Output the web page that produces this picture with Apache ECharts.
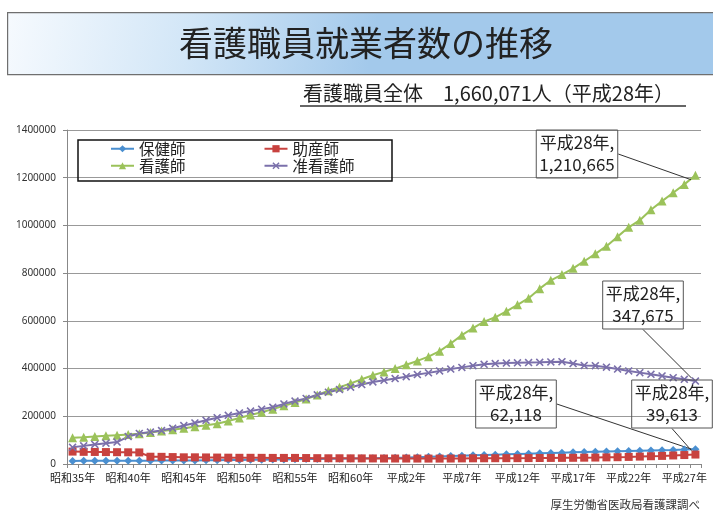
<!DOCTYPE html>
<html><head><meta charset="utf-8">
<script src="https://cdn.jsdelivr.net/npm/echarts/dist/echarts.min.js"></script>
<style>html,body{margin:0;padding:0;background:#fff}#c{width:713px;height:515px}</style>
</head><body><div id="c"></div>
<script>
const categories = ['昭和35年','昭和36年','昭和37年','昭和38年','昭和39年','昭和40年','昭和41年','昭和42年','昭和43年','昭和44年',
'昭和45年','昭和46年','昭和47年','昭和48年','昭和49年','昭和50年','昭和51年','昭和52年','昭和53年','昭和54年',
'昭和55年','昭和56年','昭和57年','昭和58年','昭和59年','昭和60年','昭和61年','昭和62年','昭和63年','平成元年',
'平成2年','平成3年','平成4年','平成5年','平成6年','平成7年','平成8年','平成9年','平成10年','平成11年',
'平成12年','平成13年','平成14年','平成15年','平成16年','平成17年','平成18年','平成19年','平成20年','平成21年',
'平成22年','平成23年','平成24年','平成25年','平成26年','平成27年','平成28年'];
const hokenshi = [13000,13200,13400,13600,13800,14000,14000,14100,14200,14300,
14500,14800,15200,15700,16300,16900,17500,18100,18700,19300,
19900,20500,21100,21700,22300,23000,23700,24400,25200,26000,
27000,28500,30000,31600,33200,34800,36200,37600,39000,40400,
41800,43200,44600,46000,47400,48800,50000,51200,52300,53400,
54500,55600,56700,57800,59000,60500,62118];
const josanshi = [52000,51000,50500,50000,49500,49000,48500,30500,30000,29000,
28000,28000,27500,27000,26500,26000,26000,25800,25500,25500,
25500,25000,24500,24000,24000,23700,23500,23300,23000,23000,
22900,22800,22700,22700,23000,23500,23800,24000,24300,24500,
24500,24800,25200,25500,25700,26000,26500,27000,27800,28500,
29700,31000,32500,34000,35800,37500,39613];
const kangoshi = [110000,112000,115000,118000,121000,124000,127000,132000,138000,144000,
150000,156000,162000,169000,180000,193000,205000,217000,230000,244000,
258000,272000,289000,307000,322000,338000,355000,372000,386000,400000,
416000,432000,450000,473000,505000,540000,570000,597000,615000,640000,
667000,695000,735000,770000,794000,820000,850000,881000,913000,953000,
992000,1022000,1066000,1102000,1137000,1172000,1210665];
const junkangoshi = [70000,76000,82000,87000,92000,115000,128000,134000,140000,150000,
161000,172000,183000,194000,204000,214000,222000,230000,238000,252000,
264000,275000,290000,301000,312000,322000,333000,344000,351000,358000,
366000,375000,382000,390000,398000,405000,412000,418000,421000,423000,
424000,425000,426000,428000,429000,421000,413000,412000,406000,398000,
390000,383000,376000,369000,362000,355000,347675];
const seriesNames = ['保健師','助産師','看護師','准看護師'];
const endLabelPrefix = '平成28年,';

const chart = echarts.init(document.getElementById('c'), null, {renderer:'canvas'});
const JP = '"Noto Sans CJK JP", "Noto Sans", sans-serif';
const xSym = 'path://M0,1.4L1.4,0L5,3.6L8.6,0L10,1.4L6.4,5L10,8.6L8.6,10L5,6.4L1.4,10L0,8.6L3.6,5Z';

function mk(name, data, color, symbol, size, pos) {
  const last = data.length - 1;
  return {
    type: 'line', name: name,
    data: data.map((v, i) => i === last ? {value: v, label: {show: true}} : v),
    symbol: symbol, symbolSize: size, showAllSymbol: true,
    lineStyle: {color: color, width: 2},
    itemStyle: {color: color},
    label: {
      show: false,
      formatter: p => endLabelPrefix + '\n' + Number(p.value).toLocaleString('en-US'),
      fontFamily: JP, fontSize: 17, lineHeight: 22, color: '#222',
      borderColor: '#555', borderWidth: 1, padding: [2, 3, 2, 3], align: 'center'
    },
    labelLine: {show: true, lineStyle: {color: '#333', width: 1}},
    labelLayout: {x: pos[0], y: pos[1], align: 'center', verticalAlign: 'middle'},
    emphasis: {disabled: true},
    z: 3
  };
}

const option = {
  animation: false,
  backgroundColor: '#fff',
  grid: {left: 67, top: 130, width: 634, height: 334, outerBoundsMode: 'none'},
  xAxis: {
    type: 'category', data: categories, boundaryGap: true,
    axisLine: {lineStyle: {color: '#888', width: 1}},
    axisTick: {show: true, interval: 0, length: 4, lineStyle: {color: '#888'}},
    axisLabel: {interval: 4, fontFamily: JP, fontSize: 11, color: '#222', margin: 8},
    splitLine: {show: false}
  },
  yAxis: {
    type: 'value', min: 0, max: 1400000, interval: 200000,
    axisLine: {show: true, lineStyle: {color: '#888'}},
    axisTick: {show: true, length: 4, lineStyle: {color: '#888'}},
    axisLabel: {fontFamily: '"Noto Sans", sans-serif', fontSize: 10, color: '#333', margin: 11,
                formatter: v => String(v)},
    splitLine: {lineStyle: {color: '#999', width: 1}}
  },
  legend: [
    {data: ['保健師','助産師'], left: 110, top: 141, itemWidth: 23, itemHeight: 9, itemGap: 78, padding: 0,
     selectedMode: false, textStyle: {fontFamily: JP, fontSize: 15.5, color: '#222'}},
    {data: ['看護師','准看護師'], left: 110, top: 158, itemWidth: 23, itemHeight: 9, itemGap: 78, padding: 0,
     selectedMode: false, textStyle: {fontFamily: JP, fontSize: 15.5, color: '#222'}}
  ],
  series: [
    mk(seriesNames[0], hokenshi, '#4a8fd0', 'diamond', 8, [516, 404]),
    mk(seriesNames[1], josanshi, '#c8423f', 'rect', 8, [672, 404]),
    mk(seriesNames[2], kangoshi, '#9bc25a', 'triangle', 9, [577, 154]),
    mk(seriesNames[3], junkangoshi, '#7b70ab', xSym, 8, [643, 305])
  ],
  graphic: [
    {type: 'rect', left: 7, top: 12, z: 0,
     shape: {width: 720, height: 62},
     style: {fill: new echarts.graphic.LinearGradient(0, 0, 0.5, 1, [
       {offset: 0, color: '#f6fafe'}, {offset: 0.5, color: '#d2e6f7'}, {offset: 1, color: '#a3c9eb'}]),
       stroke: '#6f6f6f', lineWidth: 1.2}},
    {type: 'text', x: 366, y: 43, z: 5,
     style: {text: '看護職員就業者数の推移', font: '34px "Noto Sans CJK JP"', fill: '#222',
             align: 'center', verticalAlign: 'middle'}},
    {type: 'text', x: 303, y: 93, z: 5,
     style: {text: '看護職員全体　1,660,071人（平成28年）', font: '20px "Noto Sans CJK JP"', fill: '#222',
             align: 'left', verticalAlign: 'middle'}},
    {type: 'line', z: 5, shape: {x1: 300, y1: 106, x2: 686, y2: 106}, style: {stroke: '#333', lineWidth: 1.3}},
    {type: 'rect', z: 4, shape: {x: 78, y: 140, width: 314, height: 41},
     style: {fill: 'rgba(255,255,255,0)', stroke: '#111', lineWidth: 1.5}},
    {type: 'text', x: 700, y: 505, z: 5,
     style: {text: '厚生労働省医政局看護課調べ', font: '11.5px "Noto Sans CJK JP"', fill: '#333',
             align: 'right', verticalAlign: 'middle'}}
  ]
};
chart.setOption(option);
</script>
</body></html>
